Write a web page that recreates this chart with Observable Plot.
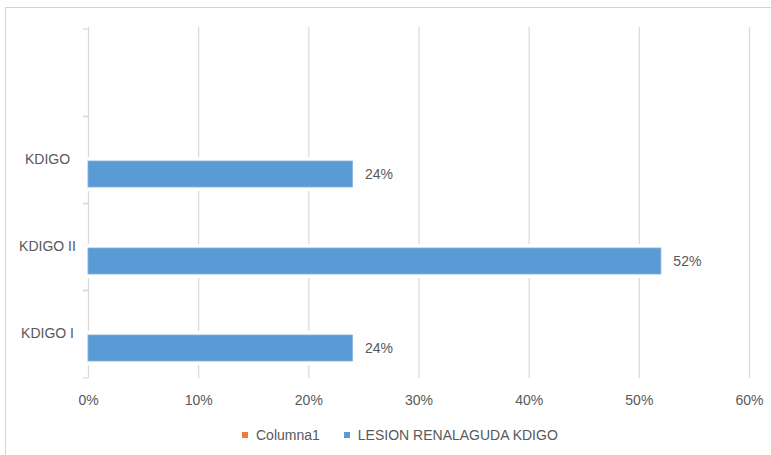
<!DOCTYPE html>
<html>
<head>
<meta charset="utf-8">
<script src="https://cdn.jsdelivr.net/npm/d3@7"></script>
<script src="https://cdn.jsdelivr.net/npm/@observablehq/plot@0.6"></script>
<style>
  html, body { margin: 0; padding: 0; background: #fff; }
  body { width: 771px; height: 455px; overflow: hidden; position: relative; font-family: "Liberation Sans", Arial, sans-serif; }
  #frame { position: absolute; left: 5px; top: 7px; width: 820px; height: 470px; border-top: 1px solid #d4d4d4; border-left: 1px solid #d4d4d4; }
  #chart { position: absolute; left: 0; top: 0; }
  #legend { position: absolute; left: 242px; top: 427px; display: flex; align-items: center; font-size: 14px; color: #595959; white-space: nowrap; }
  #legend .sw { width: 6px; height: 6px; display: inline-block; margin-right: 8px; }
  #legend .item { display: flex; align-items: center; margin-right: 24px; }
</style>
</head>
<body>
<div id="frame"></div>
<div id="chart"></div>
<div id="legend"></div>
<script>
// Categories, bottom to top as in the source sheet (last one is blank)
const categories = ["KDIGO I", "KDIGO II", "KDIGO", ""];
const seriesNames = ["Columna1", "LESION RENALAGUDA KDIGO"];
const columna1 = [null, null, null, null];
const lesion = [24, 52, 24, null];
const xTicks = [0, 10, 20, 30, 40, 50, 60];
const seriesColors = ["#ED7D31", "#5B9BD5"];

const rows = categories.map((c, i) => ({category: c, value: lesion[i]})).filter(d => d.value != null);
const yDomain = categories.slice().reverse();

const W = 771, H = 415;
const mTop = 27, mBottom = 37, mLeft = 88, mRight = 22;
const band = (H - mTop - mBottom) / yDomain.length;

const plot = Plot.plot({
  width: W,
  height: H,
  marginTop: mTop,
  marginBottom: mBottom,
  marginLeft: mLeft,
  marginRight: mRight,
  style: {fontFamily: "Liberation Sans, Arial, sans-serif", fontSize: "14px", color: "#595959", background: "transparent"},
  x: {domain: [0, 60]},
  y: {domain: yDomain, padding: 0},
  marks: [
    Plot.ruleX(xTicks.slice(1), {stroke: "#d9d9d9", strokeWidth: 1.2}),
    Plot.ruleX([0], {stroke: "#d9d9d9", strokeWidth: 1.2}),
    Plot.axisY({tickSize: 5, text: null, dy: band / 2, stroke: "#d9d9d9", strokeWidth: 1.2, label: null}),
    Plot.axisY({tickSize: 5, text: null, dy: -band / 2, stroke: "#d9d9d9", strokeWidth: 1.2, label: null}),
    Plot.axisY({tickSize: 0, tickPadding: 41, textAnchor: "middle", fill: "#595959", label: null}),
    Plot.axisX({ticks: xTicks, tickSize: 0, tickPadding: 17, tickFormat: d => d + "%", fill: "#595959", label: null}),
    Plot.barX(rows, {x: "value", y: "category", fill: "white", insetTop: 41, insetBottom: 12, insetRight: -3}),
    Plot.barX(rows, {x: "value", y: "category", fill: seriesColors[1], stroke: "#7fb0dc", strokeWidth: 0.8, insetTop: 45, insetBottom: 16}),
    Plot.text(rows, {x: "value", y: "category", text: d => d.value + "%", textAnchor: "start", dx: 12, dy: 14.5, fill: "#595959", fontSize: 14})
  ]
});
document.getElementById("chart").appendChild(plot);

const legend = document.getElementById("legend");
seriesNames.forEach((name, i) => {
  const item = document.createElement("div");
  item.className = "item";
  const sw = document.createElement("span");
  sw.className = "sw";
  sw.style.background = seriesColors[i];
  const t = document.createElement("span");
  t.textContent = name;
  item.appendChild(sw);
  item.appendChild(t);
  legend.appendChild(item);
});
</script>
</body>
</html>
